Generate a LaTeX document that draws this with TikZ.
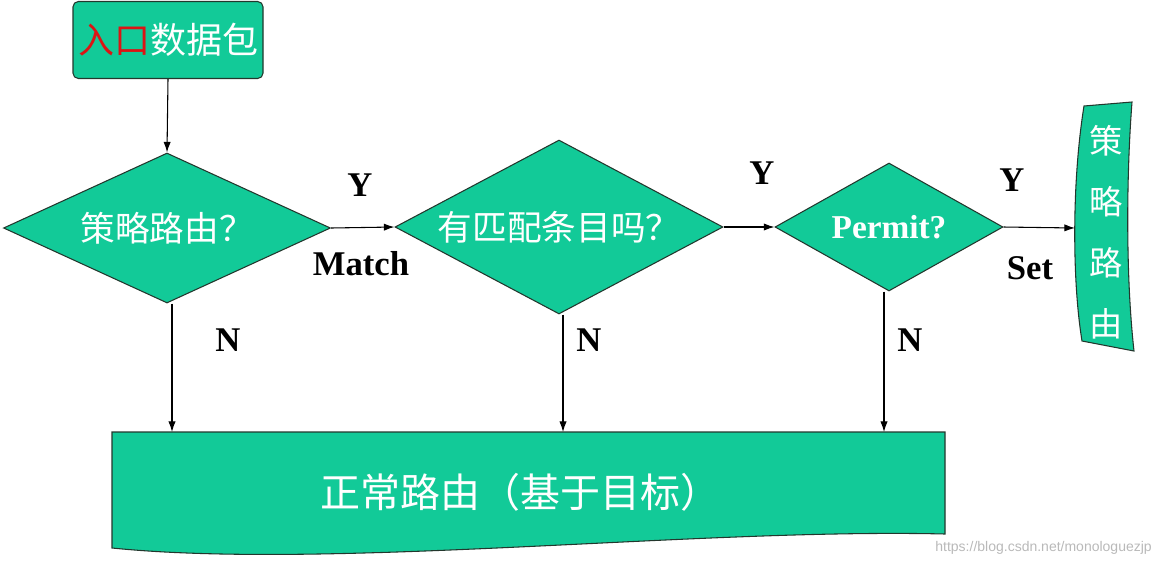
\documentclass[tikz,border=0pt]{standalone}
\usepackage{fontspec}
\setmainfont{Liberation Serif}
\newfontfamily\cjk{Noto Sans CJK SC}
\newfontfamily\wmfont{Liberation Sans}
\usetikzlibrary{shapes.geometric,arrows.meta}
\definecolor{boxgreen}{RGB}{18,202,152}
\definecolor{edgedark}{RGB}{35,55,45}
\definecolor{entryred}{RGB}{220,20,20}
\begin{document}
\begin{tikzpicture}[x=0.75pt,y=-0.75pt,
  shapefill/.style={fill=boxgreen, draw=edgedark, line width=0.8pt},
  decision/.style={diamond, shapefill, inner sep=0pt, text=white,
    font=\cjk\fontsize{26}{26}\selectfont},
  lbl/.style={font=\bfseries\fontsize{26}{26}\selectfont, text=black, inner sep=0pt},
  conn/.style={draw=black, line width=0.8pt, -{Latex[length=8pt,width=5.5pt]}},
  cjktext/.style={text=white, inner sep=0pt}]
\useasboundingbox (0,0) rectangle (1160,565);

% entry box
\node[shapefill, rounded corners=4pt, minimum width=142.5pt, minimum height=57.75pt,
      inner sep=0pt, font=\cjk\fontsize{27}{27}\selectfont, text=white] (entry) at (168,40)
  {\textcolor{entryred}{入口}数据包};

% decisions
\node[decision, aspect=2.18, minimum width=245.25pt, minimum height=112.5pt] (d1) at (167,228) {策略路由？};
\node[decision, aspect=1.885, minimum width=246pt, minimum height=130.5pt] (d2) at (559,227) {有匹配条目吗？};
\node[decision, aspect=1.78, minimum width=171pt, minimum height=96pt,
      font=\bfseries\fontsize{25}{25}\selectfont] (d3) at (889,227) {Permit?};

% policy routing banner
\path[shapefill] (1084,106) -- (1132,102)
  .. controls (1126,180) and (1126,280) .. (1134,351)
  -- (1082,341)
  .. controls (1072,280) and (1072,180) .. (1084,106) -- cycle;
\coordinate (banner) at (1075,228);
\node[cjktext, align=center, font=\cjk\fontsize{25}{45.75}\selectfont] (pbr) at (1106,232)
  {策\\略\\路\\由};

% normal routing box
\path[shapefill] (112,432) -- (945,432) -- (945,534)
  .. controls (700,528) and (330,570) .. (112,548) -- cycle;
\coordinate (ntop) at (528,432);
\node[cjktext, font=\cjk\fontsize{30}{30}\selectfont] (normal) at (520,492)
  {正常路由（基于目标）};

% connectors
\draw[conn] (entry.south) -- (d1.north);
\draw[conn] (d1.east) -- (d2.west);
\draw[conn] (d2.east) -- (d3.west);
\draw[conn] (d3.east) -- (banner);
\coordinate (n1) at (172,432);
\coordinate (n2) at (563,432);
\coordinate (n3) at (884,432);
\draw[conn] (d1.south -| n1) -- (n1);
\draw[conn] (d2.south -| n2) -- (n2);
\draw[conn] (d3.south -| n3) -- (n3);

% labels
\node[lbl] (y1) at (360,185) {Y};
\node[lbl] (m1) at (361,264) {Match};
\node[lbl] (y2) at (762,173) {Y};
\node[lbl] (y3) at (1012,180) {Y};
\node[lbl] (s3) at (1030,268) {Set};
\node[lbl] (no1) at (228,340) {N};
\node[lbl] (no2) at (589,340) {N};
\node[lbl] (no3) at (910,340) {N};

% watermark
\node[anchor=east, inner sep=0pt, text=gray!55, font=\wmfont\fontsize{10.5}{10.5}\selectfont]
  (wm) at (1152,548) {https://blog.csdn.net/monologuezjp};
\end{tikzpicture}
\end{document}
